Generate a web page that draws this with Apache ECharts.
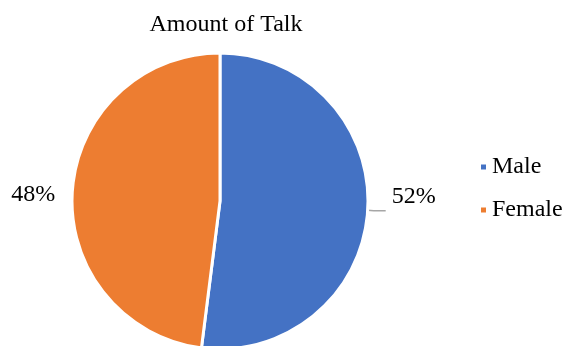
<!DOCTYPE html>
<html>
<head>
<meta charset="utf-8">
<script src="https://cdn.jsdelivr.net/npm/echarts@6/dist/echarts.min.js"></script>
<style>
  html, body { margin: 0; padding: 0; background: #fff; }
  #chart { width: 563px; height: 346px; }
</style>
</head>
<body>
<div id="chart"></div>
<script>
const categories = ['Male', 'Female'];
const values = [52, 48];
const colors = ['#4472C4', '#ED7D31'];

var chartDom = document.getElementById('chart');
var myChart = echarts.init(chartDom);
var font = 'Times New Roman, Liberation Serif, DejaVu Serif, serif';

var option = {
    animation: false,
    color: colors,
    textStyle: { fontFamily: font },
    title: {
        text: 'Amount of Talk',
        left: 221,
        textAlign: 'center',
        top: 8,
        textStyle: { fontFamily: font, fontSize: 24, fontWeight: 'normal', color: '#000' }
    },
    legend: {
        orient: 'vertical',
        left: 474,
        top: 150,
        icon: 'rect',
        itemWidth: 7,
        itemHeight: 7,
        itemGap: 19,
        data: categories,
        textStyle: { fontFamily: font, fontSize: 24, color: '#000' }
    },
    series: [
        {
            type: 'pie',
            center: [220, 201],
            radius: 148,
            startAngle: 90,
            clockwise: true,
            itemStyle: { borderColor: '#fff', borderWidth: 3 },
            label: {
                show: true,
                formatter: '{d}%',
                fontFamily: font,
                fontSize: 24,
                color: '#000',
                overflow: 'none',
                edgeDistance: 0
            },
            labelLine: {
                show: true,
                length: 6,
                length2: 12,
                lineStyle: { color: '#a6a6a6', width: 1.5 }
            },
            labelLayout: function (params) {
                return params.dataIndex === 0 ? { dx: 1, dy: -14 } : { dx: 6, dy: 3 };
            },
            data: categories.map(function (c, i) {
                var d = { name: c, value: values[i] };
                if (i === 1) d.labelLine = { show: false };
                return d;
            })
        }
    ]
};
myChart.setOption(option);
</script>
</body>
</html>
